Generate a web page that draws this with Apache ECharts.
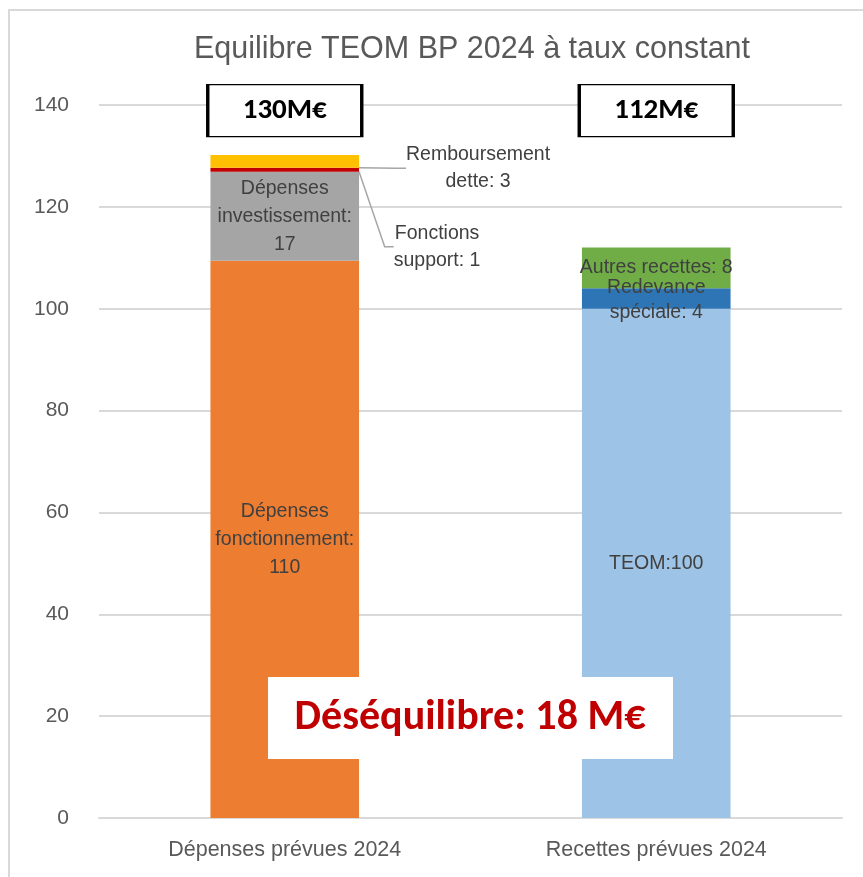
<!DOCTYPE html>
<html>
<head>
<meta charset="utf-8">
<title>Equilibre TEOM BP 2024</title>
<script src="https://cdn.jsdelivr.net/npm/echarts@6/dist/echarts.min.js"></script>
<style>
    html, body { margin: 0; padding: 0; background: #fff; }
    #chart { width: 863px; height: 877px; }
</style>
</head>
<body>
<div id="chart"></div>
<script>
// categories
const categories = ['Dépenses prévues 2024', 'Recettes prévues 2024']
// dépenses (M€)
const fonctionnement = [109.4, '-']
const investissement = [17.5, '-']
const support = [0.8, '-']
const dette = [2.5, '-']
// recettes (M€)
const teom = ['-', 100]
const redevance = ['-', 4]
const autres = ['-', 8]
// texts
const segmentLabels = [
    'Dépenses\nfonctionnement:\n110',
    'Dépenses\ninvestissement:\n17',
    'Fonctions\nsupport: 1',
    'Remboursement\ndette: 3',
    'TEOM:100',
    'Redevance\nspéciale: 4',
    'Autres recettes: 8'
]
const totalLabels = ['130M€', '112M€']
const totalLevel = 138.9
const yTicks = { min: 0, max: 140, interval: 20 }

const SANS = "'Liberation Sans', Arial, sans-serif"
const BOLD = "Carlito, Lato, 'Liberation Sans', sans-serif"

const chartInstance = echarts.init(document.getElementById('chart'))

// label dans la barre
function insideLabel(text) {
    return {
        show: true,
        position: 'inside',
        formatter: text,
        color: '#404040',
        fontFamily: SANS,
        fontSize: 19.5,
        lineHeight: 28
    }
}

// label déporté avec trait de rappel
function sideLabel(text, dx, dy) {
    return {
        label: {
            show: true,
            position: 'right',
            distance: 5,
            align: 'center',
            formatter: text,
            color: '#404040',
            fontFamily: SANS,
            fontSize: 19.5,
            lineHeight: 27
        },
        labelLayout: { dx: dx, dy: dy },
        labelLine: {
            show: true,
            length2: 9,
            lineStyle: { color: '#A6A6A6', width: 1.5 }
        }
    }
}

const option = {
    animation: false,
    backgroundColor: '#fff',
    title: {
        text: 'Equilibre TEOM BP 2024 à taux constant',
        left: 467,
        top: 29,
        textAlign: 'center',
        textStyle: {
            color: '#595959',
            fontFamily: SANS,
            fontWeight: 'normal',
            fontSize: 30.5
        }
    },
    grid: {
        left: 99,
        right: 21,
        top: 105,
        bottom: 59
    },
    xAxis: {
        type: 'category',
        data: categories,
        axisTick: { show: false },
        axisLine: { lineStyle: { color: '#D9D9D9', width: 2 } },
        axisLabel: {
            color: '#595959',
            fontFamily: SANS,
            fontSize: 21.5,
            margin: 21
        }
    },
    yAxis: {
        type: 'value',
        min: yTicks.min,
        max: yTicks.max,
        interval: yTicks.interval,
        axisLine: { show: false },
        axisTick: { show: false },
        splitLine: { lineStyle: { color: '#D9D9D9', width: 2 } },
        axisLabel: {
            color: '#595959',
            fontFamily: SANS,
            fontSize: 21,
            margin: 30
        }
    },
    series: [
        {
            type: 'bar', stack: 'total', barWidth: '40%',
            data: fonctionnement,
            itemStyle: { color: '#ED7D31' },
            label: insideLabel(segmentLabels[0]),
            markPoint: {
                symbol: 'rect',
                symbolSize: [154, 52],
                itemStyle: { color: '#fff', borderColor: '#000', borderWidth: 2 },
                label: {
                    show: true,
                    color: '#000',
                    fontFamily: BOLD,
                    fontWeight: 'bold',
                    fontSize: 29
                },
                data: [
                    { coord: [0, totalLevel], value: totalLabels[0], label: { formatter: totalLabels[0] } },
                    { coord: [1, totalLevel], value: totalLabels[1], label: { formatter: totalLabels[1] } }
                ]
            }
        },
        {
            type: 'bar', stack: 'total',
            data: investissement,
            itemStyle: { color: '#A5A5A5' },
            label: insideLabel(segmentLabels[1])
        },
        Object.assign({
            type: 'bar', stack: 'total',
            data: support,
            itemStyle: { color: '#C00000' }
        }, sideLabel(segmentLabels[2], 73, 77)),
        Object.assign({
            type: 'bar', stack: 'total',
            data: dette,
            itemStyle: { color: '#FFC000' }
        }, sideLabel(segmentLabels[3], 114, 7)),
        {
            type: 'bar', stack: 'total',
            data: teom,
            itemStyle: { color: '#9DC3E6' },
            label: insideLabel(segmentLabels[4])
        },
        {
            type: 'bar', stack: 'total',
            data: redevance,
            itemStyle: { color: '#2E75B6' },
            label: Object.assign(insideLabel(segmentLabels[5]), { lineHeight: 25, offset: [0, 2] })
        },
        {
            type: 'bar', stack: 'total',
            data: autres,
            itemStyle: { color: '#70AD47' },
            label: insideLabel(segmentLabels[6])
        }
    ],
    graphic: [
        {
            // cadre du graphique
            type: 'rect',
            silent: true,
            shape: { x: 9, y: 10, width: 900, height: 900 },
            style: { fill: 'none', stroke: '#D9D9D9', lineWidth: 2 }
        },
        {
            // encadré déséquilibre
            type: 'rect',
            z: 100,
            silent: true,
            shape: { x: 268, y: 677, width: 405, height: 82 },
            style: { fill: '#fff' }
        },
        {
            type: 'text',
            z: 101,
            silent: true,
            x: 470,
            y: 718,
            style: {
                text: 'Déséquilibre: 18 M€',
                align: 'center',
                verticalAlign: 'middle',
                fill: '#C00000',
                font: 'bold 42px ' + BOLD
            }
        }
    ]
}

chartInstance.setOption(option)
</script>
</body>
</html>
